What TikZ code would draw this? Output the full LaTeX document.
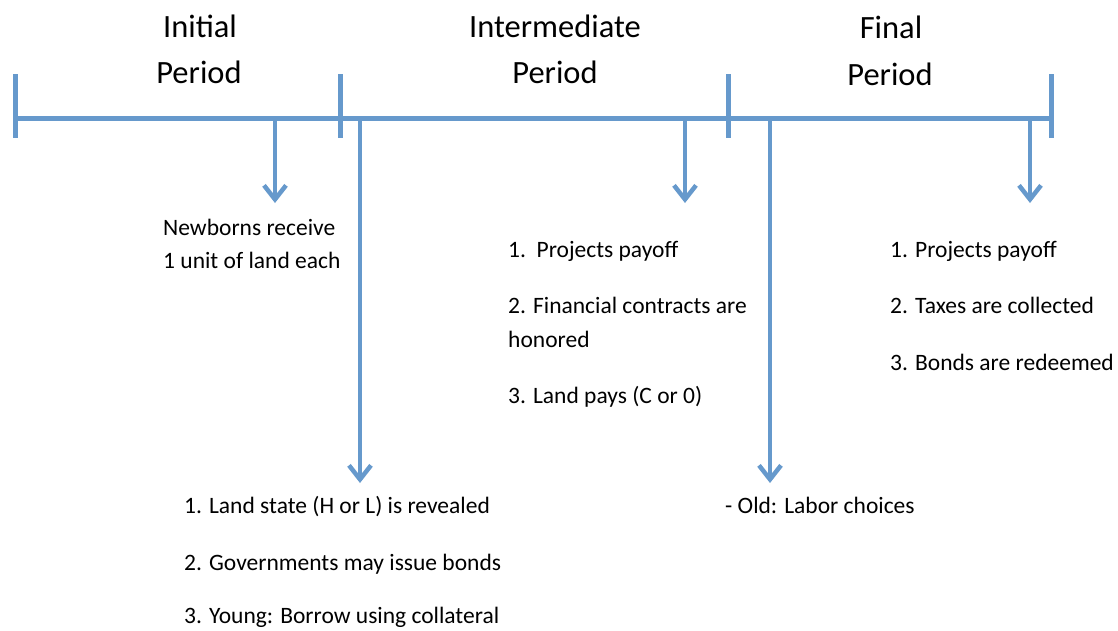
\documentclass[tikz,border=0pt]{standalone}
\usepackage{fontspec}
\setmainfont{Carlito}
\usetikzlibrary{arrows.meta}
\definecolor{tl}{RGB}{102,153,204}
\begin{document}
\begin{tikzpicture}[x=1pt,y=-1pt,
  tline/.style={draw=tl,line width=5pt},
  evarrow/.style={draw=tl,line width=4.5pt,-{Straight Barb[length=14pt,width=22pt]}},
  ptitle/.style={font=\fontsize{32.5}{39}\selectfont,anchor=base,inner sep=0pt},
  lbl/.style={font=\fontsize{23.5}{28}\selectfont,anchor=base west,inner sep=0pt}]
\useasboundingbox (0,0) rectangle (1118,630);
% timeline
\coordinate (L) at (15,118);
\coordinate (R) at (1051,118);
\draw[tline] (L) -- (R);
\foreach \n/\x in {t1/15,t2/340,t3/728,t4/1051}{
  \coordinate (\n top) at (\x,74);
  \coordinate (\n bot) at (\x,138);
  \draw[tline] (\n top) -- (\n bot);
}
% arrows
\foreach \n/\x/\y in {a1/275/203,a2/360/483,a3/685/203,a4/770/483,a5/1030/203}{
  \coordinate (\n s) at (\x,118);
  \coordinate (\n e) at (\x,\y);
  \draw[evarrow] (\n s) -- (\n e);
}
% titles
\node[ptitle] (ini1) at (200,37) {Initial};
\node[ptitle] (ini2) at (199,83) {Period};
\node[ptitle] (int1) at (555,37) {Intermediate};
\node[ptitle] (int2) at (555,83) {Period};
\node[ptitle] (fin1) at (891,38) {Final};
\node[ptitle] (fin2) at (890,85) {Period};
% labels
\node[lbl] (nb1) at (163,235) {Newborns receive};
\node[lbl] (nb2) at (163,268) {1 unit of land each};
\node[lbl] (m1) at (508,257) {1.\ \ Projects payoff};
\node[lbl] (m2) at (508,313) {2. Financial contracts are};
\node[lbl] (m3) at (508,347) {honored};
\node[lbl] (m4) at (508,403) {3. Land pays (C or 0)};
\node[lbl] (f1) at (890,257) {1. Projects payoff};
\node[lbl] (f2) at (890,313) {2. Taxes are collected};
\node[lbl] (f3) at (890,370) {3. Bonds are redeemed};
\node[lbl] (b1) at (184,513) {1. Land state (H or L) is revealed};
\node[lbl] (b2) at (184,570) {2. Governments may issue bonds};
\node[lbl] (b3) at (184,623) {3. Young: Borrow using collateral};
\node[lbl] (o1) at (725,513) {- Old: Labor choices};
\end{tikzpicture}
\end{document}
